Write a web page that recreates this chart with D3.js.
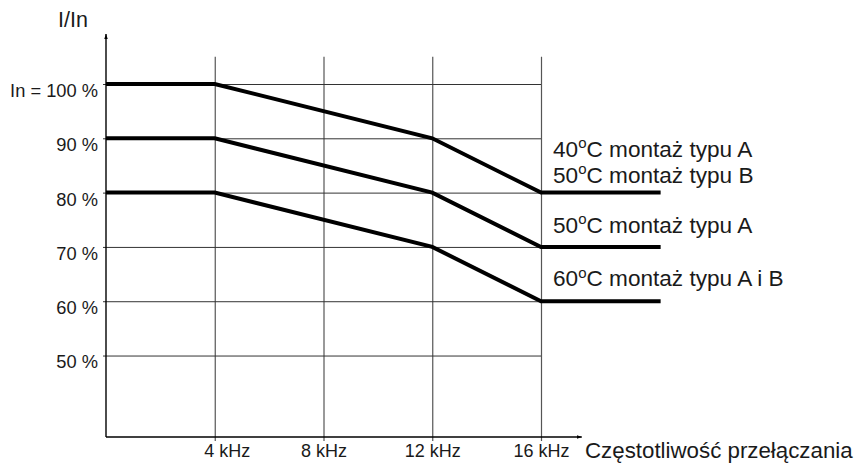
<!DOCTYPE html>
<html><head><meta charset="utf-8">
<script src="https://cdn.jsdelivr.net/npm/d3@7"></script>
<style>
body{margin:0;background:#fff}
svg{display:block}
text{font-family:"Liberation Sans",Arial,Helvetica,sans-serif;fill:#1a1a1a}
</style>
</head><body><svg id="c" width="858" height="469"></svg>
<script>
// ---- data ----
const freqKHz = [0, 4, 12, 16, 20.4];
const curve40A50B = [100, 100, 90, 80, 80];
const curve50A = [90, 90, 80, 70, 70];
const curve60AB = [80, 80, 70, 60, 60];
const seriesList = [curve40A50B, curve50A, curve60AB];
const xTickValues = [4, 8, 12, 16];
const xTickLabels = ["4 kHz", "8 kHz", "12 kHz", "16 kHz"];
const yTickValues = [50, 60, 70, 80, 90, 100];
const yTickLabels = ["50 %", "60 %", "70 %", "80 %", "90 %", "In = 100 %"];
const legendTemps = ["40", "50", "50", "60"];
const legendTexts = ["C montaż typu A", "C montaż typu B", "C montaż typu A", "C montaż typu A i B"];
const legendAnchorValues = [80, 80, 70, 60];
const yTitle = "I/In";
const xTitle = "Częstotliwość przełączania";

// ---- layout ----
const legendOffsets = [36, 10, 14, 15];
const svg = d3.select("#c");
const x = d3.scaleLinear().domain([0, 16]).range([106, 541]);
const y = d3.scaleLinear().domain([35, 100]).range([437, 84]);
const axisMaxKHz = 17.5, axisMaxPct = 109.2, gridTopPct = 105;

// vertical gridlines + x labels
const gx = svg.append("g").attr("transform", "translate(0,441)")
  .call(d3.axisBottom(x).tickValues(xTickValues)
    .tickSize(-(441 - y(gridTopPct))).tickPadding(3.5)
    .tickFormat((d, i) => xTickLabels[i]));
gx.select(".domain").remove();
gx.selectAll(".tick line").attr("stroke", "#555").attr("stroke-width", 1.2);
gx.selectAll(".tick text").attr("font-size", 18).attr("fill", "#1a1a1a")
  .attr("font-family", "'Liberation Sans',Arial,sans-serif");
gx.selectAll(".tick text").filter((d, i) => i === 0).attr("dx", 12);

// horizontal gridlines + y labels
const gy = svg.append("g").attr("transform", "translate(103,0)")
  .call(d3.axisLeft(y).tickValues(yTickValues)
    .tickSize(-(x(16) - 103)).tickPadding(5)
    .tickFormat((d, i) => yTickLabels[i]));
gy.select(".domain").remove();
gy.selectAll(".tick line").attr("stroke", "#333").attr("stroke-width", 1);
gy.selectAll(".tick text").attr("font-size", 18.3).attr("fill", "#1a1a1a")
  .attr("dy", "0.68em")
  .attr("font-family", "'Liberation Sans',Arial,sans-serif");

// arrow marker
const defs = svg.append("defs");
defs.append("marker").attr("id", "arr").attr("viewBox", "0 0 10 10")
  .attr("refX", 10).attr("refY", 5).attr("markerWidth", 5).attr("markerHeight", 5)
  .attr("markerUnits", "userSpaceOnUse").attr("orient", "auto")
  .append("path").attr("d", "M0,1.5L10,5L0,8.5Z").attr("fill", "#000");

// axes lines
svg.append("line").attr("x1", x(0)).attr("y1", y(35)).attr("x2", x(0)).attr("y2", y(axisMaxPct))
  .attr("stroke", "#000").attr("stroke-width", 1.4).attr("marker-end", "url(#arr)");
svg.append("line").attr("x1", x(0)).attr("y1", y(35)).attr("x2", x(axisMaxKHz)).attr("y2", y(35))
  .attr("stroke", "#000").attr("stroke-width", 1.4).attr("marker-end", "url(#arr)");

// data curves
const line = d3.line().x(d => x(d[0])).y(d => y(d[1]));
svg.append("g").selectAll("path").data(seriesList).join("path")
  .attr("d", s => line(s.map((v, i) => [freqKHz[i], v])))
  .attr("fill", "none").attr("stroke", "#000").attr("stroke-width", 4)
  .attr("stroke-linejoin", "miter");

// legend labels
const lg = svg.append("g");
legendTexts.forEach((t, i) => {
  const tx = lg.append("text").attr("x", x(16) + 12)
    .attr("y", y(legendAnchorValues[i]) - legendOffsets[i]).attr("font-size", 22.6);
  tx.append("tspan").text(legendTemps[i]);
  tx.append("tspan").attr("font-size", 15).attr("dy", -8.5).text("o");
  tx.append("tspan").attr("dy", 8.5).text(t);
});

// titles
svg.append("text").attr("x", 58).attr("y", 27).attr("font-size", 21.5).text(yTitle);
svg.append("text").attr("x", 585).attr("y", 458).attr("font-size", 22.3).text(xTitle);
</script>
</body></html>
